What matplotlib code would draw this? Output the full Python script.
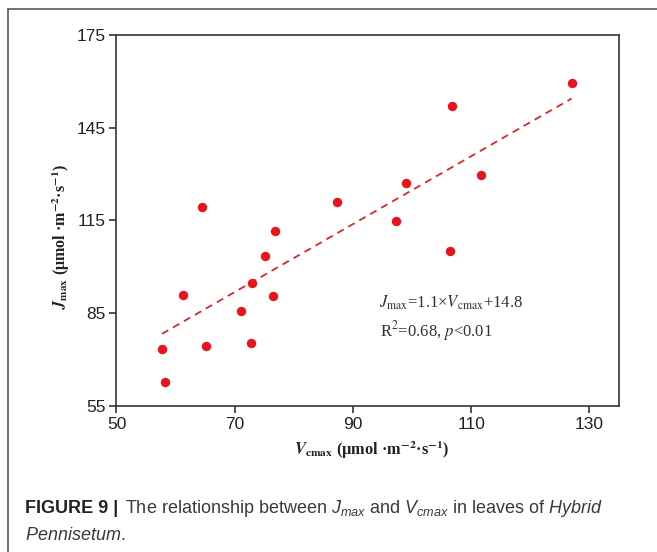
import numpy as np
import matplotlib
matplotlib.use("Agg")
import matplotlib.pyplot as plt
from matplotlib.lines import Line2D

# Vcmax and Jmax values
vcmax = [57.7, 58.2, 61.3, 64.5, 65.2, 71.0, 72.7, 73.0, 75.1,
         76.9, 76.5, 87.3, 97.3, 98.9, 106.5, 106.7, 111.6, 127.0]
jmax = [73.5, 62.5, 90.8, 119.2, 74.4, 85.8, 75.2, 94.8, 103.6,
        111.6, 90.4, 120.9, 114.8, 127.0, 105.2, 152.0, 129.7, 159.4]

# regression reported on the plot
slope = 1.1
intercept = 14.8

xticks = [50, 70, 90, 110, 130]
yticks = [55, 85, 115, 145, 175]

plt.rcParams['font.family'] = ['Liberation Sans', 'DejaVu Sans']
plt.rcParams['mathtext.fontset'] = 'custom'
plt.rcParams['mathtext.rm'] = 'Liberation Sans'
plt.rcParams['mathtext.it'] = 'Liberation Sans:italic'
plt.rcParams['mathtext.bf'] = 'Liberation Sans:bold'

fig = plt.figure(figsize=(6.57, 5.52), dpi=100)
ax = fig.add_axes([0.1773, 0.2652, 0.7647, 0.671])

ax.scatter(vcmax, jmax, s=46, color='#e8141c', zorder=3, linewidths=0)

xfit = np.array([min(vcmax), max(vcmax)])
ax.plot(xfit, slope * xfit + intercept, color='#d8262c', lw=1.3,
        linestyle=(0, (4, 3)), zorder=2)

ax.set_xlim(50, 135)
ax.set_ylim(55, 175)
ax.set_xticks(xticks)
ax.set_yticks(yticks)
ax.tick_params(direction='out', length=5, width=1.1, labelsize=12.5,
               colors='#222222', pad=3)
for sp in ax.spines.values():
    sp.set_color('#333333')
    sp.set_linewidth(1.2)

serif = ['Liberation Serif', 'DejaVu Serif']
ax.text(0.508, -0.12, r'$\mathbfit{V}_{\mathbf{cmax}}$ (μmol ·m$^{\mathbf{-2}}$·s$^{\mathbf{-1}}$)',
        transform=ax.transAxes, ha='center', va='center', fontsize=11.8,
        family=serif, fontweight='bold', math_fontfamily='stix', color='#222222')
ax.text(-0.11, 0.458, r'$\mathbfit{J}_{\mathbf{max}}$ (μmol ·m$^{\mathbf{-2}}$·s$^{\mathbf{-1}}$)',
        transform=ax.transAxes, ha='center', va='center', rotation=90,
        fontsize=11.5, family=serif, fontweight='bold', math_fontfamily='stix',
        color='#222222')

ax.text(94.4, 88.3, r'$J_{\mathrm{max}}$=1.1×$V_{\mathrm{cmax}}$+14.8',
        ha='left', va='center', fontsize=12, family=serif,
        math_fontfamily='stix', color='#333333')
ax.text(94.6, 79.2, r'R$^2$=0.68, $p$<0.01',
        ha='left', va='center', fontsize=12, family=serif,
        math_fontfamily='stix', color='#333333')

# outer frame (left and top edges only visible)
fig.add_artist(Line2D([8 / 657, 8 / 657], [0, 1 - 9 / 552], color='#666666', lw=1.3,
                      transform=fig.transFigure))
fig.add_artist(Line2D([8 / 657, 1], [1 - 9 / 552, 1 - 9 / 552], color='#666666', lw=1.3,
                      transform=fig.transFigure))

# caption
fig.text(25 / 657, 1 - 513 / 552, 'FIGURE 9 |', fontsize=13, fontweight='bold',
         color='#222222', va='baseline')
fig.text(125 / 657, 1 - 513 / 552,
         r'The relationship between $\mathit{J}_{\mathit{max}}$ and $\mathit{V}_{\mathit{cmax}}$'
         r' in leaves of $\mathit{Hybrid}$',
         fontsize=13, color='#3a3a3a', va='baseline')
fig.text(25 / 657, 1 - 540 / 552, r'$\mathit{Pennisetum}$.', fontsize=13,
         color='#3a3a3a', va='baseline')

fig.savefig('out.png', dpi=100)
